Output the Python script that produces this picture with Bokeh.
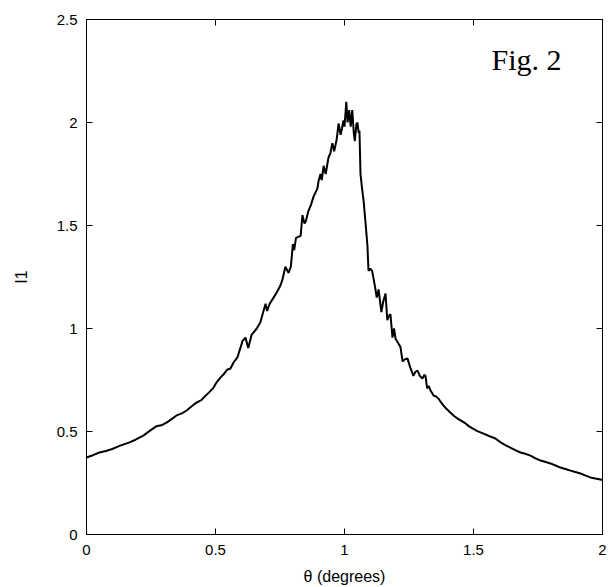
from bokeh.plotting import figure
from bokeh.models import Range1d, LinearAxis, FixedTicker, Label
from bokeh.embed import file_html
from bokeh.resources import INLINE

theta = [0.000, 0.025, 0.050, 0.075, 0.100, 0.128, 0.150, 0.167, 0.190, 0.220,
         0.245, 0.270, 0.290, 0.310, 0.330, 0.349, 0.370, 0.388, 0.410, 0.426,
         0.445, 0.457, 0.475, 0.492, 0.505, 0.519, 0.530, 0.545, 0.558, 0.570,
         0.585, 0.595, 0.605, 0.616, 0.627, 0.640, 0.647, 0.660, 0.674, 0.685,
         0.694, 0.700, 0.710, 0.725, 0.735, 0.744, 0.752, 0.760, 0.771, 0.783,
         0.792, 0.800, 0.805, 0.812, 0.830, 0.837, 0.845, 0.850, 0.860, 0.870,
         0.880, 0.895, 0.900, 0.907, 0.912, 0.919, 0.927, 0.938, 0.945, 0.953,
         0.960, 0.970, 0.977, 0.985, 0.990, 0.996, 1.000, 1.007, 1.012, 1.018,
         1.024, 1.030, 1.036, 1.040, 1.046, 1.050, 1.055, 1.058, 1.062, 1.068,
         1.074, 1.081, 1.089, 1.093, 1.100, 1.107, 1.113, 1.120, 1.125, 1.132,
         1.143, 1.150, 1.159, 1.166, 1.172, 1.178, 1.186, 1.192, 1.198, 1.210,
         1.217, 1.225, 1.233, 1.244, 1.255, 1.267, 1.275, 1.283, 1.292, 1.302,
         1.310, 1.314, 1.320, 1.327, 1.333, 1.345, 1.355, 1.364, 1.375, 1.384,
         1.395, 1.410, 1.425, 1.438, 1.455, 1.469, 1.483, 1.496, 1.515, 1.539,
         1.560, 1.585, 1.605, 1.625, 1.643, 1.662, 1.682, 1.700, 1.721, 1.740,
         1.760, 1.780, 1.798, 1.818, 1.837, 1.856, 1.876, 1.895, 1.915, 1.935,
         1.953, 1.972, 1.992, 2.000]

intensity = [0.374, 0.385, 0.398, 0.405, 0.415, 0.430, 0.440, 0.447, 0.460, 0.480,
             0.503, 0.525, 0.530, 0.543, 0.560, 0.578, 0.588, 0.602, 0.625, 0.640,
             0.652, 0.668, 0.690, 0.712, 0.740, 0.762, 0.775, 0.800, 0.806, 0.835,
             0.860, 0.900, 0.940, 0.956, 0.905, 0.970, 0.980, 1.000, 1.030, 1.080,
             1.120, 1.085, 1.120, 1.150, 1.170, 1.190, 1.210, 1.240, 1.300, 1.270,
             1.300, 1.410, 1.380, 1.440, 1.450, 1.550, 1.510, 1.520, 1.570, 1.600,
             1.640, 1.680, 1.720, 1.750, 1.720, 1.790, 1.750, 1.830, 1.850, 1.900,
             1.860, 1.920, 1.995, 1.940, 1.970, 2.010, 1.980, 2.100, 2.000, 2.060,
             1.980, 2.060, 1.950, 1.910, 1.990, 2.000, 1.950, 1.960, 1.750, 1.680,
             1.620, 1.520, 1.400, 1.280, 1.290, 1.280, 1.240, 1.190, 1.150, 1.190,
             1.080, 1.130, 1.170, 1.040, 1.060, 1.070, 0.956, 1.000, 0.950, 0.925,
             0.910, 0.840, 0.850, 0.855, 0.810, 0.770, 0.790, 0.796, 0.770, 0.757,
             0.775, 0.770, 0.710, 0.720, 0.700, 0.675, 0.670, 0.660, 0.640, 0.626,
             0.610, 0.592, 0.575, 0.563, 0.550, 0.539, 0.525, 0.515, 0.502, 0.490,
             0.478, 0.466, 0.447, 0.433, 0.422, 0.410, 0.398, 0.392, 0.383, 0.370,
             0.359, 0.352, 0.345, 0.335, 0.325, 0.318, 0.310, 0.303, 0.296, 0.286,
             0.277, 0.272, 0.267, 0.265]

x_ticks = [0, 0.5, 1, 1.5, 2]
x_tick_labels = ["0", "0.5", "1", "1.5", "2"]
y_ticks = [0, 0.5, 1, 1.5, 2, 2.5]
y_tick_labels = ["0", "0.5", "1", "1.5", "2", "2.5"]

FONT = "Liberation Sans"

p = figure(width=608, height=587, output_backend="svg", toolbar_location=None,
           x_range=Range1d(0, 2), y_range=Range1d(0, 2.5),
           x_axis_label="θ (degrees)", y_axis_label="I1",
           min_border_left=86, min_border_right=6, min_border_top=19,
           min_border_bottom=53)
p.background_fill_color = "white"
p.border_fill_color = "white"
p.outline_line_color = "black"
p.outline_line_width = 1
p.xgrid.visible = False
p.ygrid.visible = False

for ax, ticks, labels in ((p.xaxis[0], x_ticks, x_tick_labels),
                          (p.yaxis[0], y_ticks, y_tick_labels)):
    ax.ticker = FixedTicker(ticks=ticks)
    ax.major_label_overrides = {t: l for t, l in zip(ticks, labels)}
    ax.major_tick_in = 6
    ax.major_tick_out = 0
    ax.minor_tick_in = 0
    ax.minor_tick_out = 0
    ax.axis_line_color = "black"
    ax.major_tick_line_color = "black"
    ax.major_label_text_font = FONT
    ax.major_label_text_font_size = "15px"
    ax.major_label_text_color = "black"
    ax.axis_label_text_font = FONT
    ax.axis_label_text_font_size = "16px"
    ax.axis_label_text_font_style = "normal"
    ax.axis_label_text_color = "black"

p.xaxis[0].major_label_standoff = 10
p.xaxis[0].axis_label_standoff = 10
p.yaxis[0].major_label_standoff = 9
p.yaxis[0].axis_label_standoff = 24

for loc, ticks in (("right", y_ticks), ("above", x_ticks)):
    ax = LinearAxis(ticker=FixedTicker(ticks=ticks), major_label_text_font_size="0px",
                    major_label_text_color=None, major_label_text_alpha=0,
                    major_label_standoff=0, major_tick_in=6, major_tick_out=0,
                    minor_tick_in=0, minor_tick_out=0, axis_line_color="black",
                    major_tick_line_color="black")
    p.add_layout(ax, loc)

p.line(theta, intensity, line_color="black", line_width=2)

p.add_layout(Label(x=1.57, y=2.305, text="Fig. 2", text_font="Liberation Serif",
                   text_font_size="30px", text_color="black",
                   text_baseline="alphabetic", text_align="left"))

open("out.html", "w").write(file_html(p, INLINE))
